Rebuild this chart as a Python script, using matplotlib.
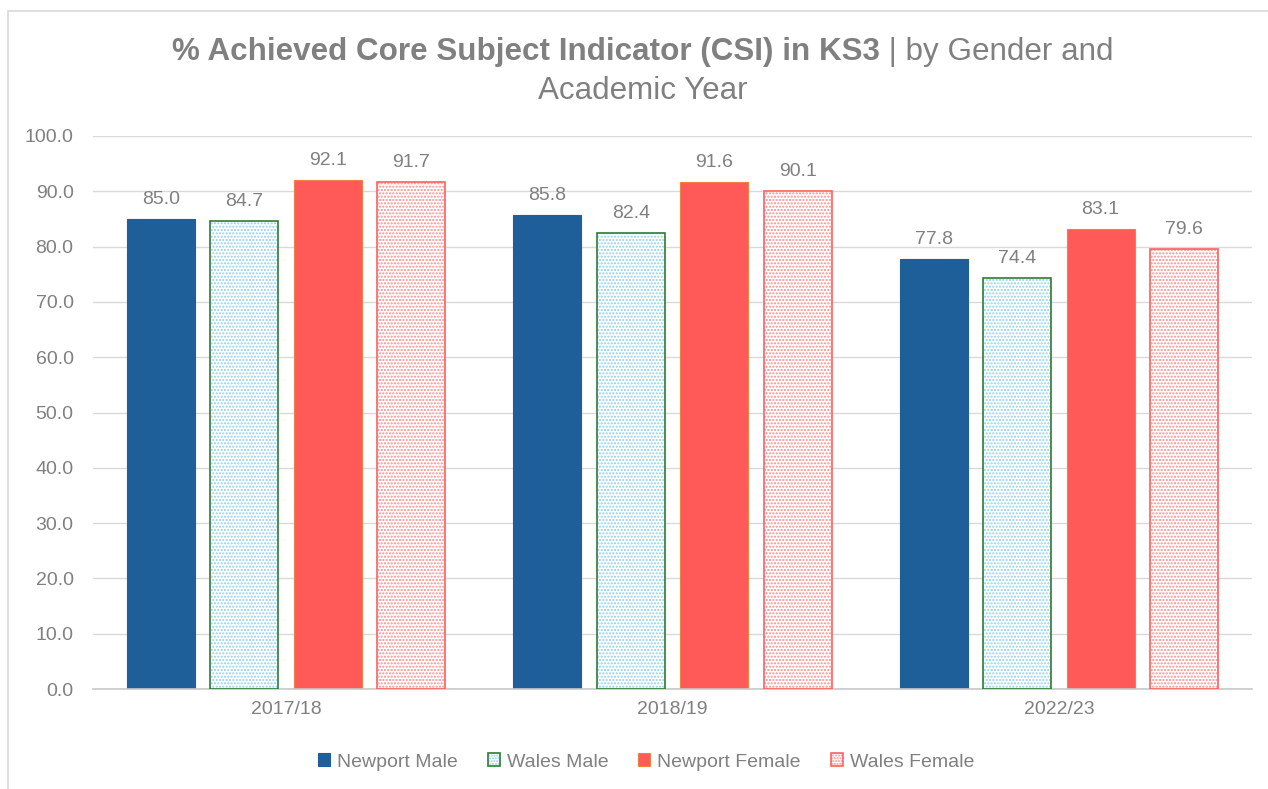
import matplotlib
matplotlib.use("Agg")
import matplotlib.pyplot as plt
from matplotlib.patches import Patch, Rectangle
from matplotlib.legend_handler import HandlerTuple
import numpy as np

years = ["2017/18", "2018/19", "2022/23"]
series_names = ["Newport Male", "Wales Male", "Newport Female", "Wales Female"]
newport_male = [85.0, 85.8, 77.8]
wales_male = [84.7, 82.4, 74.4]
newport_female = [92.1, 91.6, 83.1]
wales_female = [91.7, 90.1, 79.6]
y_ticks = [0, 10, 20, 30, 40, 50, 60, 70, 80, 90, 100]

plt.rcParams['font.family'] = ['Liberation Sans', 'DejaVu Sans']
plt.rcParams['hatch.linewidth'] = 1.0
TXT = "#808080"

W, H = 1268, 789
fig = plt.figure(figsize=(W / 100, H / 100), dpi=100)
fig.patches.append(Rectangle((8 / W, -0.1), 1.2, (H - 11) / H + 0.1, transform=fig.transFigure,
                             fill=False, edgecolor="#d9d9d9", linewidth=1.2))
ax = fig.add_axes([93 / W, 1 - 689 / H, (1252 - 93) / W, 553 / H])

x = np.arange(len(years))
bw = 0.176
step = 0.216
offsets = [-1.5 * step, -0.5 * step, 0.5 * step, 1.5 * step]

styles = [
    dict(face="#1f5f99", hatch=None, hatchcol=None, edge="#1f5f99"),
    dict(face="white", hatch=".....", hatchcol="#8fd0ee", edge="#2e7d32"),
    dict(face="#ff5a57", hatch=None, hatchcol=None, edge="#f08040"),
    dict(face="white", hatch=".....", hatchcol="#ff8a8a", edge="#ff6060"),
]
data = [newport_male, wales_male, newport_female, wales_female]

handles = []
for vals, off, st, name in zip(data, offsets, styles, series_names):
    if st["hatch"]:
        ax.bar(x + off, vals, bw, color="white", hatch=st["hatch"],
               edgecolor=st["hatchcol"], linewidth=0, zorder=2)
        ax.bar(x + off, vals, bw, facecolor="none", edgecolor=st["edge"],
               linewidth=1.2, zorder=3)
        h = (Patch(facecolor="white", hatch="......", edgecolor=st["hatchcol"], linewidth=0),
             Patch(facecolor="none", edgecolor=st["edge"], linewidth=1.2))
    else:
        ax.bar(x + off, vals, bw, color=st["face"], edgecolor=st["edge"],
               linewidth=0.8, zorder=2)
        h = Patch(facecolor=st["face"], edgecolor=st["edge"], linewidth=0.8)
    handles.append(h)
    for xi, v in zip(x + off, vals):
        ax.annotate(f"{v:.1f}", (xi, v), xytext=(0, 10.8), textcoords="offset points",
                    ha="center", va="baseline", fontsize=14, color=TXT)

ax.set_xlim(-0.5, 2.5)
ax.set_ylim(0, 100)
ax.set_yticks(y_ticks)
ax.set_yticklabels([f"{t:.1f}" for t in y_ticks])
ax.set_xticks(x)
ax.set_xticklabels(years)
ax.tick_params(axis="both", length=0, labelsize=14, colors=TXT)
ax.tick_params(axis="y", pad=14)
ax.tick_params(axis="x", pad=9)
ax.yaxis.grid(True, color="#d9d9d9", linewidth=1, zorder=0)
ax.set_axisbelow(True)
for s in ["top", "right", "left"]:
    ax.spines[s].set_visible(False)
ax.spines["bottom"].set_color("#c8c8c8")
ax.spines["bottom"].set_linewidth(1.2)

# Title with bold and regular parts, fitted to the reference width
renderer = fig.canvas.get_renderer()
ty1 = 1 - 60 / H
ty2 = 1 - 99 / H
fs = 22
t1 = fig.text(0, ty1, "% Achieved Core Subject Indicator (CSI) in KS3", fontsize=fs,
              fontweight="bold", color=TXT, ha="left", va="baseline")
t2 = fig.text(0, ty1, " | by Gender and", fontsize=fs, color=TXT, ha="left", va="baseline")
w1 = t1.get_window_extent(renderer).width
w2 = t2.get_window_extent(renderer).width
scale = 940.0 / (w1 + w2)
fs = fs * scale
t1.set_fontsize(fs)
t2.set_fontsize(fs)
w1 = t1.get_window_extent(renderer).width
w2 = t2.get_window_extent(renderer).width
cx = 642.5
start = (cx - (w1 + w2) / 2) / W
t1.set_x(start)
t2.set_x(start + w1 / W)
fig.text(cx / W, ty2, "Academic Year", fontsize=fs, color=TXT, ha="center", va="baseline")

fig.legend(handles, series_names, loc="center", bbox_to_anchor=(646 / W, 1 - 762 / H), ncol=4,
           frameon=False, fontsize=14, labelcolor=TXT, handlelength=0.62, handleheight=0.62,
           handletextpad=0.36, columnspacing=1.55, borderpad=0,
           handler_map={tuple: HandlerTuple(ndivide=1, pad=0)})

fig.savefig("out.png", dpi=100)
